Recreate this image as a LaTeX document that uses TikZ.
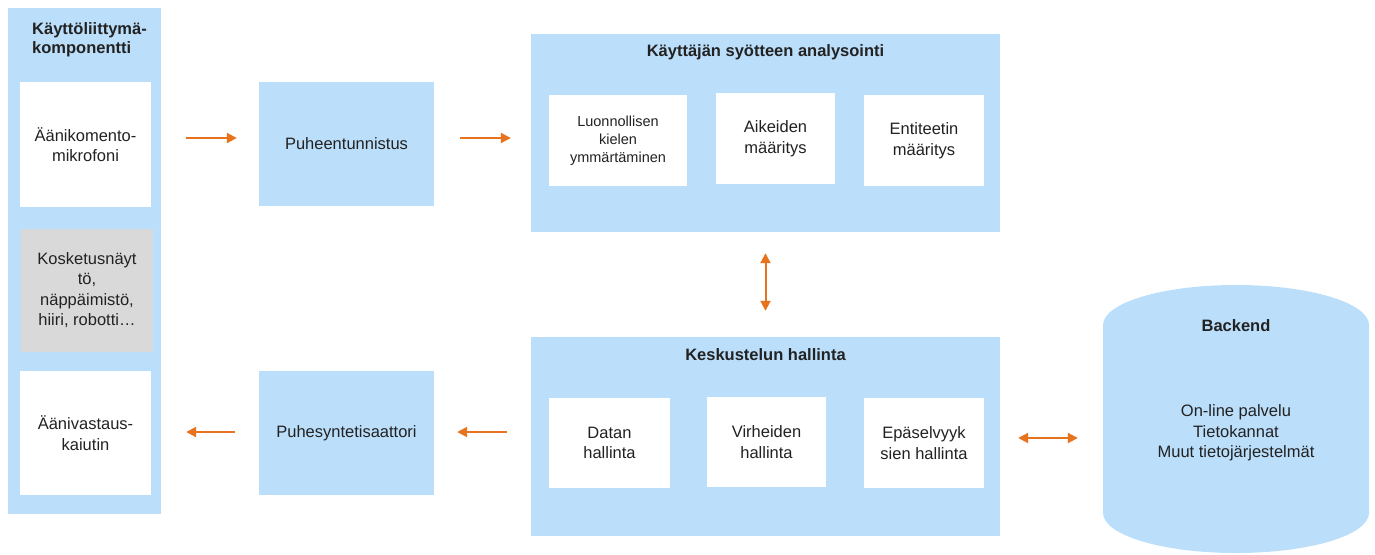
\documentclass[tikz,border=0pt]{standalone}
\usepackage{fontspec}
\setmainfont{Liberation Sans}
\usetikzlibrary{arrows.meta}
\definecolor{boxblue}{HTML}{BBDEFA}
\definecolor{boxgray}{HTML}{D9D9D9}
\definecolor{arrorange}{HTML}{E8731E}
\definecolor{txt}{HTML}{222222}
\begin{document}
\begin{tikzpicture}[x=1pt,y=-1pt,
  every node/.style={text=txt, inner sep=0pt},
  bluebox/.style={fill=boxblue, align=center, font=\fontsize{16.5}{20.5}\selectfont},
  whitebox/.style={fill=white, align=center, font=\fontsize{16.5}{20.5}\selectfont},
  smallbox/.style={fill=white, align=center, font=\fontsize{14.5}{18}\selectfont},
  graybox/.style={fill=boxgray, align=center, font=\fontsize{16.5}{20.5}\selectfont},
  ttl/.style={font=\bfseries\fontsize{16.5}{19}\selectfont},
  plain/.style={align=center, font=\fontsize{16.5}{20.5}\selectfont},
  arr/.style={draw=arrorange, line width=2pt, -{Triangle[length=10pt,width=10pt]}},
  biarr/.style={draw=arrorange, line width=2pt, {Triangle[length=10pt,width=10pt]}-{Triangle[length=10pt,width=10pt]}}
]
\useasboundingbox (0,0) rectangle (1375,554);

% left panel
\node[bluebox, minimum width=153, minimum height=506] (ui) at (84.5,261) {};
\node[ttl, anchor=west, align=left] (uititle) at (32,39.5) {Käyttöliittymä-\\komponentti};
\node[whitebox, minimum width=131, minimum height=125] (mic) at (85.5,144.5) {Äänikomento-\\mikrofoni};
\node[graybox, minimum width=132, minimum height=123] (touch) at (87,290) {Kosketusnäyt\\tö,\\näppäimistö,\\hiiri, robotti…};
\node[whitebox, minimum width=131, minimum height=124] (spk) at (85.5,433) {Äänivastaus-\\kaiutin};

% speech recognition / synthesis
\node[bluebox, minimum width=175, minimum height=124] (asr) at (346.5,144) {Puheentunnistus};
\node[bluebox, minimum width=175, minimum height=124] (tts) at (346.5,433) {Puhesyntetisaattori};

% input analysis panel
\node[bluebox, minimum width=469, minimum height=198] (nlu) at (765.5,133) {};
\node[ttl] (nlutitle) at (765.5,52) {Käyttäjän syötteen analysointi};
\node[smallbox, minimum width=138, minimum height=91] (nlu1) at (618,140.5) {Luonnollisen\\kielen\\ymmärtäminen};
\node[whitebox, minimum width=119, minimum height=91] (nlu2) at (775.5,138.5) {Aikeiden\\määritys};
\node[whitebox, minimum width=120, minimum height=91] (nlu3) at (924,140.5) {Entiteetin\\määritys};

% dialogue management panel
\node[bluebox, minimum width=469, minimum height=199] (dm) at (765.5,436.5) {};
\node[ttl] (dmtitle) at (765.5,355) {Keskustelun hallinta};
\node[whitebox, minimum width=121, minimum height=90] (dm1) at (609.5,443) {Datan\\hallinta};
\node[whitebox, minimum width=119, minimum height=90] (dm2) at (766.5,442) {Virheiden\\hallinta};
\node[whitebox, minimum width=120, minimum height=90] (dm3) at (924,443) {Epäselvyyk\\sien hallinta};

% backend cylinder
\node[minimum width=266, minimum height=268] (backend) at (1236,419) {};
\fill[boxblue] (1103,325) arc[start angle=180, end angle=360, x radius=133, y radius=40]
  -- (1369,513) arc[start angle=0, end angle=180, x radius=133, y radius=40] -- cycle;
\node[ttl] (betitle) at (1236,326) {Backend};
\node[plain] (betext) at (1236,433) {On-line palvelu\\Tietokannat\\Muut tietojärjestelmät};

% connectors
\draw[arr, shorten <=25pt, shorten >=22pt] ([yshift=6.5pt]mic.east -| ui.east) -- ([yshift=6.5pt]mic.east -| asr.west);
\draw[arr, shorten <=26pt, shorten >=20pt] ([yshift=6pt]asr.east) -- ([yshift=6pt]asr.east -| nlu.west);
\draw[biarr, shorten <=21pt, shorten >=26pt] (nlu.south) -- (dm.north);
\draw[arr, shorten <=24pt, shorten >=23pt] ([yshift=1pt]tts.east -| dm.west) -- ([yshift=1pt]tts.east);
\draw[arr, shorten <=24pt, shorten >=25pt] ([yshift=1pt]tts.west) -- ([yshift=1pt]tts.west -| ui.east);
\draw[biarr, shorten <=18pt, shorten >=25pt] ([yshift=-1.5pt]dm.east) -- ([yshift=-1.5pt]dm.east -| backend.west);
\end{tikzpicture}
\end{document}
